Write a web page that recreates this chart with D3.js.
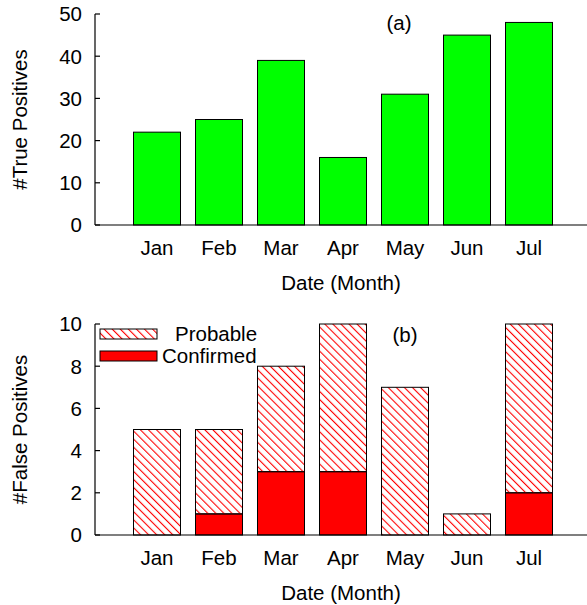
<!DOCTYPE html>
<html>
<head>
<meta charset="utf-8">
<script src="https://cdn.jsdelivr.net/npm/d3@7"></script>
<style>
  body { margin: 0; background: #fff; }
  text { font-family: "Liberation Sans", Arial, sans-serif; font-size: 20.5px; fill: #000; }
</style>
</head>
<body>
<script>
// data
const months = ["Jan", "Feb", "Mar", "Apr", "May", "Jun", "Jul"]
const truePositives = [22, 25, 39, 16, 31, 45, 48]
const confirmed = [0, 1, 3, 3, 0, 0, 2]
const probable = [5, 4, 5, 7, 7, 1, 8]
const topTicks = [0, 10, 20, 30, 40, 50]
const bottomTicks = [0, 2, 4, 6, 8, 10]

const svg = d3.select("body").append("svg")
    .attr("width", 587)
    .attr("height", 605)

// hatch pattern for the probable bars
svg.append("defs").append("pattern")
    .attr("id", "hatch")
    .attr("patternUnits", "userSpaceOnUse")
    .attr("width", 5.7)
    .attr("height", 10)
    .attr("patternTransform", "rotate(-45)")
    .append("line")
    .attr("x1", 0.5).attr("y1", 0)
    .attr("x2", 0.5).attr("y2", 10)
    .attr("stroke", "#ff0000")
    .attr("stroke-width", 1.2)

// slots 1..7 hold the months, slots 0 and 8 are empty
const x = d3.scaleLinear().domain([0, 8]).range([95, 591])
const barW = 47

function drawFrame(y, ticks, yLabel, tag, tagX, tagY) {
    const y0 = y.range()[0]
    const y1 = y.range()[1]
    const g = svg.append("g")
    // left axis with inward ticks
    g.append("line")
        .attr("x1", 95).attr("x2", 95)
        .attr("y1", y0).attr("y2", y1)
        .attr("stroke", "black").attr("stroke-width", 1.2)
    g.selectAll(".tick")
        .data(ticks)
        .enter()
        .append("line")
        .attr("x1", 95).attr("x2", 100)
        .attr("y1", d => y(d)).attr("y2", d => y(d))
        .attr("stroke", "black").attr("stroke-width", 1.2)
    g.selectAll(".ticklabel")
        .data(ticks)
        .enter()
        .append("text")
        .attr("x", 82)
        .attr("y", d => y(d))
        .attr("dy", "0.36em")
        .attr("text-anchor", "end")
        .text(d => d)
    // bottom axis
    g.append("line")
        .attr("x1", 95).attr("x2", 587)
        .attr("y1", y0).attr("y2", y0)
        .attr("stroke", "black").attr("stroke-width", 1.2)
    g.selectAll(".month")
        .data(months)
        .enter()
        .append("text")
        .attr("x", (d, i) => x(i + 1))
        .attr("y", y0 + 30)
        .attr("text-anchor", "middle")
        .text(d => d)
    g.append("text")
        .attr("x", x(4) - 2)
        .attr("y", y0 + 65)
        .attr("text-anchor", "middle")
        .text("Date (Month)")
    g.append("text")
        .attr("transform", "translate(27," + ((y0 + y1) / 2) + ") rotate(-90)")
        .attr("text-anchor", "middle")
        .text(yLabel)
    g.append("text")
        .attr("x", tagX)
        .attr("y", tagY)
        .attr("dy", "0.36em")
        .attr("text-anchor", "middle")
        .text(tag)
}

// (a) true positives
const yTop = d3.scaleLinear().domain([0, 50]).range([225, 14])
svg.selectAll(".tp")
    .data(truePositives)
    .enter()
    .append("rect")
    .attr("x", (d, i) => x(i + 1) - barW / 2)
    .attr("y", d => yTop(d))
    .attr("width", barW)
    .attr("height", d => yTop(0) - yTop(d))
    .attr("fill", "#00ff00")
    .attr("stroke", "black")
    .attr("stroke-width", 1)
drawFrame(yTop, topTicks, "#True Positives", "(a)", 399, 23)

// (b) false positives, stacked
const yBot = d3.scaleLinear().domain([0, 10]).range([535, 324])
const stacked = d3.stack().keys(["confirmed", "probable"])(
    months.map((m, i) => ({ month: m, confirmed: confirmed[i], probable: probable[i] })))

stacked.forEach(layer => {
    svg.selectAll(".fp-" + layer.key)
        .data(layer.filter(d => d[1] > d[0]))
        .enter()
        .append("rect")
        .attr("x", d => x(months.indexOf(d.data.month) + 1) - barW / 2)
        .attr("y", d => yBot(d[1]))
        .attr("width", barW)
        .attr("height", d => yBot(d[0]) - yBot(d[1]))
        .attr("fill", layer.key == "confirmed" ? "#ff0000" : "url(#hatch)")
        .attr("stroke", "black")
        .attr("stroke-width", 1)
})
drawFrame(yBot, bottomTicks, "#False Positives", "(b)", 405, 335)

// legend
const legend = [
    { label: "Probable", fill: "url(#hatch)", tx: 175, y: 334 },
    { label: "Confirmed", fill: "#ff0000", tx: 162, y: 356 }
]
legend.forEach(item => {
    svg.append("rect")
        .attr("x", 100).attr("y", item.y - 5)
        .attr("width", 57).attr("height", 10)
        .attr("fill", item.fill)
        .attr("stroke", "black").attr("stroke-width", 1)
    svg.append("text")
        .attr("x", item.tx).attr("y", item.y)
        .attr("dy", "0.36em")
        .text(item.label)
})
</script>
</body>
</html>
